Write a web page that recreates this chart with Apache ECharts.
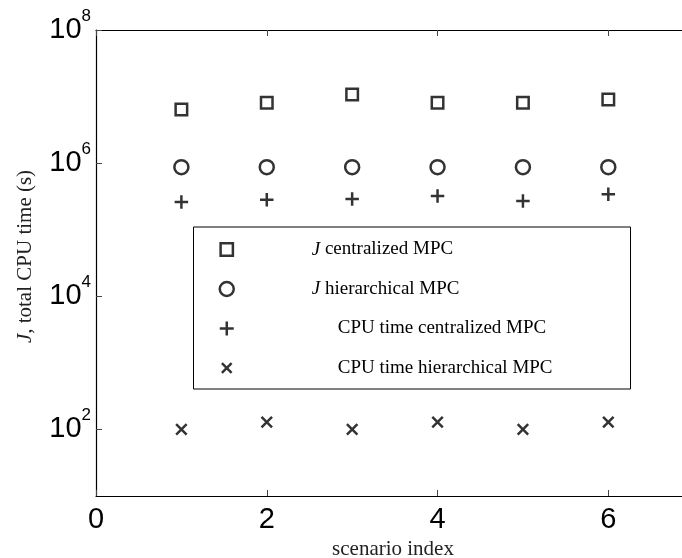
<!DOCTYPE html>
<html>
<head>
<meta charset="utf-8">
<script src="https://cdn.jsdelivr.net/npm/echarts@6/dist/echarts.min.js"></script>
<style>
html,body{margin:0;padding:0;background:#fff;}
#chart{width:682px;height:558px;}
</style>
</head>
<body>
<div id="chart"></div>
<script>
// Data
const scenarios = [1, 2, 3, 4, 5, 6];
const jCentralized = [6.4e6, 8.1e6, 1.07e7, 8.1e6, 8.1e6, 9.0e6];
const jHierarchical = [8.7e5, 8.7e5, 8.7e5, 8.7e5, 8.7e5, 8.7e5];
const cpuCentralized = [2.6e5, 2.83e5, 2.89e5, 3.2e5, 2.7e5, 3.4e5];
const cpuHierarchical = [100, 129, 100, 129, 100, 129];
const seriesNames = ['J centralized MPC', 'J hierarchical MPC', 'CPU time centralized MPC', 'CPU time hierarchical MPC'];
const xTicks = [0, 2, 4, 6];
const yTicks = [1e2, 1e4, 1e6, 1e8];

const pair = (ys) => scenarios.map((x, i) => [x, ys[i]]);
const serif = '"Liberation Serif", "Times New Roman", serif';
const sans = '"Liberation Sans", Arial, sans-serif';

const plusPath = 'path://M5,0L5,10M0,5L10,5';
const crossPath = 'path://M0,0L10,10M0,10L10,0';
// legend icons with a little empty margin so they come out at the reference size
const squareIcon = 'path://M-0.7,-0.7L-0.7,-0.7M0,0L10,0L10,10L0,10ZM10.7,10.7L10.7,10.7';
const crossIcon = 'path://M-2.2,-2.2L-2.2,-2.2M0,0L10,10M0,10L10,0M12.2,12.2L12.2,12.2';
const hollow = { color: 'rgba(0,0,0,0)', borderColor: '#000', borderWidth: 2.5 };

// visible x-range: the frame is cut at the right edge of the picture
const xMax = 6.863;

const chart = echarts.init(document.getElementById('chart'), null, { renderer: 'canvas' });
chart.setOption({
  animation: false,
  backgroundColor: '#fff',
  grid: { left: 96, top: 30, bottom: 62, right: 0, containLabel: false, outerBoundsMode: 'none' },
  xAxis: [{
    type: 'value', min: 0, max: xMax, interval: 2, position: 'bottom',
    name: 'scenario index', nameLocation: 'middle', nameGap: 40,
    nameTextStyle: { fontFamily: serif, fontSize: 21, color: '#222', padding: [0, 0, 0, 8] },
    axisLine: { onZero: false, lineStyle: { color: '#000', width: 1.2 } },
    axisTick: { inside: true, length: 6, customValues: xTicks, lineStyle: { color: '#444' } },
    axisLabel: {
      margin: 9, fontFamily: sans, fontSize: 29, color: '#000', customValues: xTicks,
      formatter: v => String(v)
    },
    splitLine: { show: false }
  }, {
    type: 'value', min: 0, max: xMax, interval: 2, position: 'top',
    axisLine: { onZero: false, lineStyle: { color: '#000', width: 1.2 } },
    axisTick: { inside: true, length: 6, customValues: xTicks, lineStyle: { color: '#444' } },
    axisLabel: { show: false }, splitLine: { show: false }
  }],
  yAxis: [{
    type: 'log', logBase: 10, min: 10, max: 1e8,
    name: '{j|J}, total CPU time (s)', nameLocation: 'middle', nameGap: 60,
    nameTextStyle: {
      fontFamily: serif, fontSize: 21, color: '#222', padding: [0, 0, 0, 13],
      rich: { j: { fontFamily: serif, fontSize: 21, fontStyle: 'italic', color: '#222' } }
    },
    axisLine: { onZero: false, lineStyle: { color: '#000', width: 1.2 } },
    axisTick: { inside: true, length: 6, customValues: yTicks, lineStyle: { color: '#444' } },
    axisLabel: {
      margin: 5, customValues: yTicks,
      formatter: v => '{b|10}{s|' + Math.round(Math.log10(v)) + '}',
      rich: {
        b: { fontFamily: sans, fontSize: 29, lineHeight: 30, color: '#000' },
        s: { fontFamily: sans, fontSize: 17, lineHeight: 17, padding: [0, 0, 28, 0], color: '#000' }
      }
    },
    splitLine: { show: false }
  }],
  legend: {
    orient: 'vertical', left: 193.5, top: 227,
    padding: [13, 78, 11.5, 25],
    itemWidth: 14, itemHeight: 14, itemGap: 20.5,
    borderColor: '#000', borderWidth: 1, backgroundColor: '#fff',
    data: [
      { name: seriesNames[0], icon: squareIcon },
      { name: seriesNames[1], icon: 'circle' },
      { name: seriesNames[2], icon: plusPath },
      { name: seriesNames[3], icon: crossIcon }
    ],
    itemStyle: { borderWidth: 2.5 },
    textStyle: {
      fontFamily: serif, fontSize: 19, color: '#000',
      rich: {
        p1: { width: 73, lineHeight: 20 },
        p2: { width: 99, lineHeight: 20 },
        t: { fontFamily: serif, fontSize: 19, lineHeight: 20, color: '#000' },
        j: { fontFamily: serif, fontSize: 19, lineHeight: 20, fontStyle: 'italic', color: '#000' }
      }
    },
    formatter: name => {
      if (name.startsWith('J ')) return '{p1|}{j|J}{t|' + name.slice(1) + '}';
      return '{p2|}{t|' + name + '}';
    }
  },
  series: [
    { name: seriesNames[0], type: 'scatter', symbol: 'rect', symbolSize: 11.5, itemStyle: hollow, data: pair(jCentralized) },
    { name: seriesNames[1], type: 'scatter', symbol: 'circle', symbolSize: 14, itemStyle: hollow, data: pair(jHierarchical) },
    { name: seriesNames[2], type: 'scatter', symbol: plusPath, symbolSize: 13.5, itemStyle: hollow, data: pair(cpuCentralized) },
    { name: seriesNames[3], type: 'scatter', symbol: crossPath, symbolSize: 10.5, itemStyle: hollow, data: pair(cpuHierarchical) }
  ]
});
</script>
</body>
</html>
